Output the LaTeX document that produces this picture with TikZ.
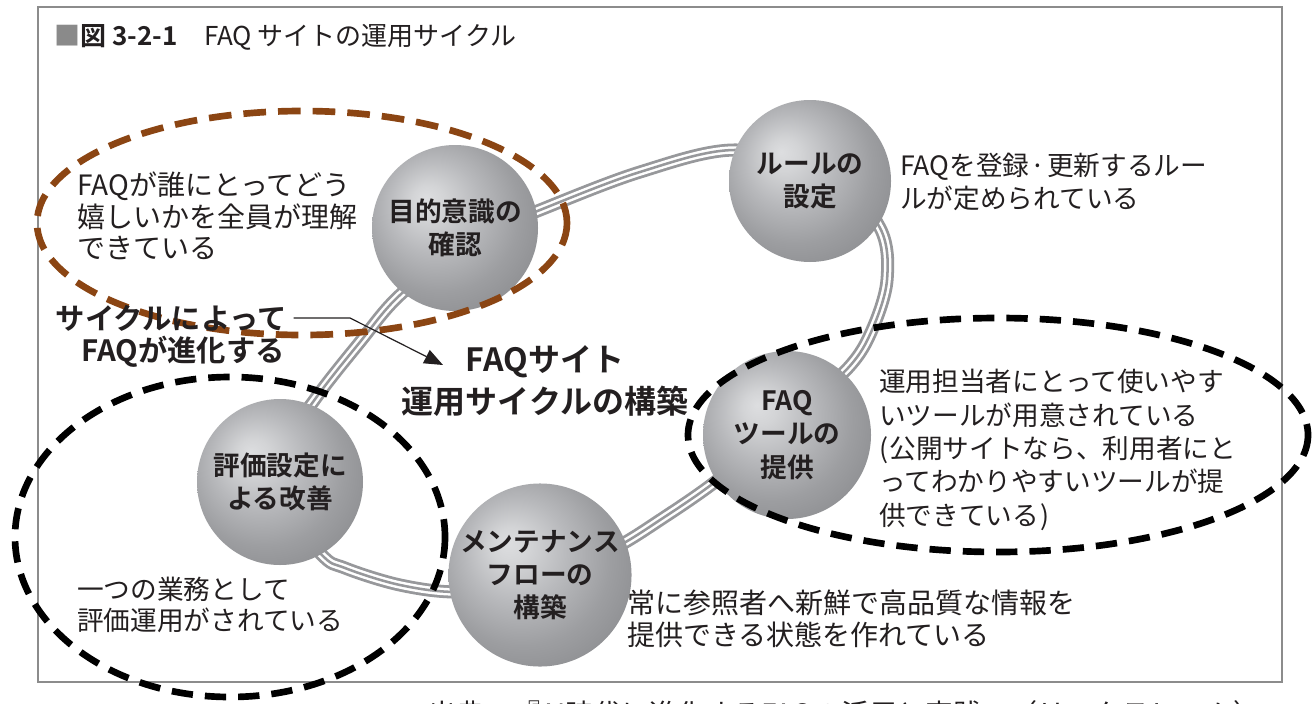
\documentclass[tikz,border=0pt]{standalone}
\usepackage{fontspec}
\setmainfont{Noto Sans CJK JP}[BoldFont={Noto Sans CJK JP Bold}]
\usetikzlibrary{arrows.meta}
\definecolor{txt}{HTML}{231F20}
\definecolor{brownd}{HTML}{8B4513}
\definecolor{framec}{HTML}{8C8C8C}
\definecolor{ringc}{HTML}{97989B}
\definecolor{sqc}{HTML}{8A8A8A}
\definecolor{sphA}{HTML}{DDDEE0}
\definecolor{sphB}{HTML}{D3D4D6}
\definecolor{sphC}{HTML}{B8B9BC}
\definecolor{sphD}{HTML}{9D9EA1}
\definecolor{sphE}{HTML}{8A8B8E}
\definecolor{sphF}{HTML}{818285}
\pgfdeclareradialshading{sphereshade}{\pgfpoint{-9bp}{9bp}}{color(0bp)=(sphA); color(5bp)=(sphB); color(14bp)=(sphC); color(24bp)=(sphD); color(34bp)=(sphE); color(50bp)=(sphF)}
\tikzset{
  sphere/.style={circle, inner sep=0pt, shading=sphereshade, text=txt, align=center,
     font=\fontsize{20}{25}\selectfont\bfseries},
  ring/.style={draw=ringc, line width=2.1pt, double=white, double distance=5.6pt,
     postaction={draw=ringc, line width=1.9pt}},
  dashbrown/.style={draw=brownd, line width=5pt, dash pattern=on 17pt off 9pt},
  dashblack/.style={draw=black, line width=5pt, dash pattern=on 16pt off 9pt},
  body/.style={text=txt, align=left, inner sep=0pt},
  arrowline/.style={draw=txt, line width=0.9pt, -{Triangle[length=14pt,width=11pt]}}
}
\begin{document}
\begin{tikzpicture}[x=0.75pt,y=-0.75pt]
\useasboundingbox (0,0) rectangle (1312,703);
\clip (0,0) rectangle (1312,703);
\fill[white] (0,0) rectangle (1312,703);
% frame
\draw[framec, line width=1.5pt] (38,7) rectangle (1282,682);
% title
\node[anchor=west, text=txt, inner sep=0pt, font=\fontsize{19.5}{22}\selectfont] (title) at (54,37)
  {\textcolor{sqc}{■}\textbf{図 3-2-1}\hspace{20pt}FAQ サイトの運用サイクル};
% ring
\draw[ring] plot[smooth cycle, tension=0.55] coordinates {
 (540,210) (640,172) (735,150) (830,172) (880,228) (887,280) (872,330) (848,368)
 (785,425) (715,482) (660,520) (615,548) (540,585) (458,592) (400,585) (345,568)
 (320,553) (262,480) (313,402) (360,342) (400,295) (470,240)};
% spheres
\node[sphere, minimum size=124.5pt] (s1) at (455,228) {目的意識の\\確認};
\node[sphere, minimum size=121.5pt] (s2) at (810,181) {ルールの\\設定};
\node[sphere, minimum size=126pt] (s3) at (787,435) {FAQ\\ツールの\\提供};
\node[sphere, minimum size=124.5pt] (s4) at (540,575) {メンテナンス\\フローの\\構築};
\node[sphere, minimum size=124.5pt] (s5) at (280,482) {評価設定に\\よる改善};
% dashed ellipses
\draw[dashbrown] (302,223) ellipse [x radius=265, y radius=112];
\draw[dashblack] (230,537) ellipse [x radius=215, y radius=160];
\draw[dashblack] (998,435) ellipse [x radius=310, y radius=117];
% descriptive texts
\node[body, anchor=west, font=\fontsize{21}{23.5}\selectfont] (d1) at (77,216)
  {FAQが誰にとってどう\\嬉しいかを全員が理解\\できている};
\node[body, anchor=west, font=\fontsize{20}{24.75}\selectfont] (d2) at (900,182)
  {FAQを登録{\kern1pt}·{\kern1pt}更新するルー\\ルが定められている};
\node[body, anchor=west, font=\fontsize{20}{25}\selectfont] (d3) at (879,450)
  {運用担当者にとって使いやす\\いツールが用意されている\\({\kern1pt}公開サイトなら、利用者にと\\ってわかりやすいツールが提\\供できている{\kern1pt})};
\node[body, anchor=west, font=\fontsize{20}{23.25}\selectfont] (d4) at (77,605)
  {一つの業務として\\評価運用がされている};
\node[body, anchor=west, font=\fontsize{21}{24}\selectfont] (d5) at (627,619)
  {常に参照者へ新鮮で高品質な情報を\\提供できる状態を作れている};
% cycle caption
\node[body, anchor=east, font=\fontsize{22}{25.5}\selectfont\bfseries] (c1) at (287,318) {サイクルによって};
\node[body, anchor=east, font=\fontsize{22}{25.5}\selectfont\bfseries] (c2) at (285,352) {FAQが進化する};
\coordinate (abend) at (350,318);
\coordinate (atip) at (443,365);
\draw[arrowline] ([xshift=5pt]c1.east) -- (abend) -- (atip);
% central title
\node[text=txt, align=center, inner sep=0pt, font=\fontsize{24}{31.5}\selectfont\bfseries] (main) at (545,381)
  {FAQサイト\\運用サイクルの構築};
% source line (cut off at bottom)
\node[anchor=base west, inner sep=0pt, text=txt, font=\fontsize{21}{24}\selectfont] (src) at (428,724)
  {出典：『AI時代に進化するFAQの活用と実践』（リックテレコム）};
\end{tikzpicture}
\end{document}
